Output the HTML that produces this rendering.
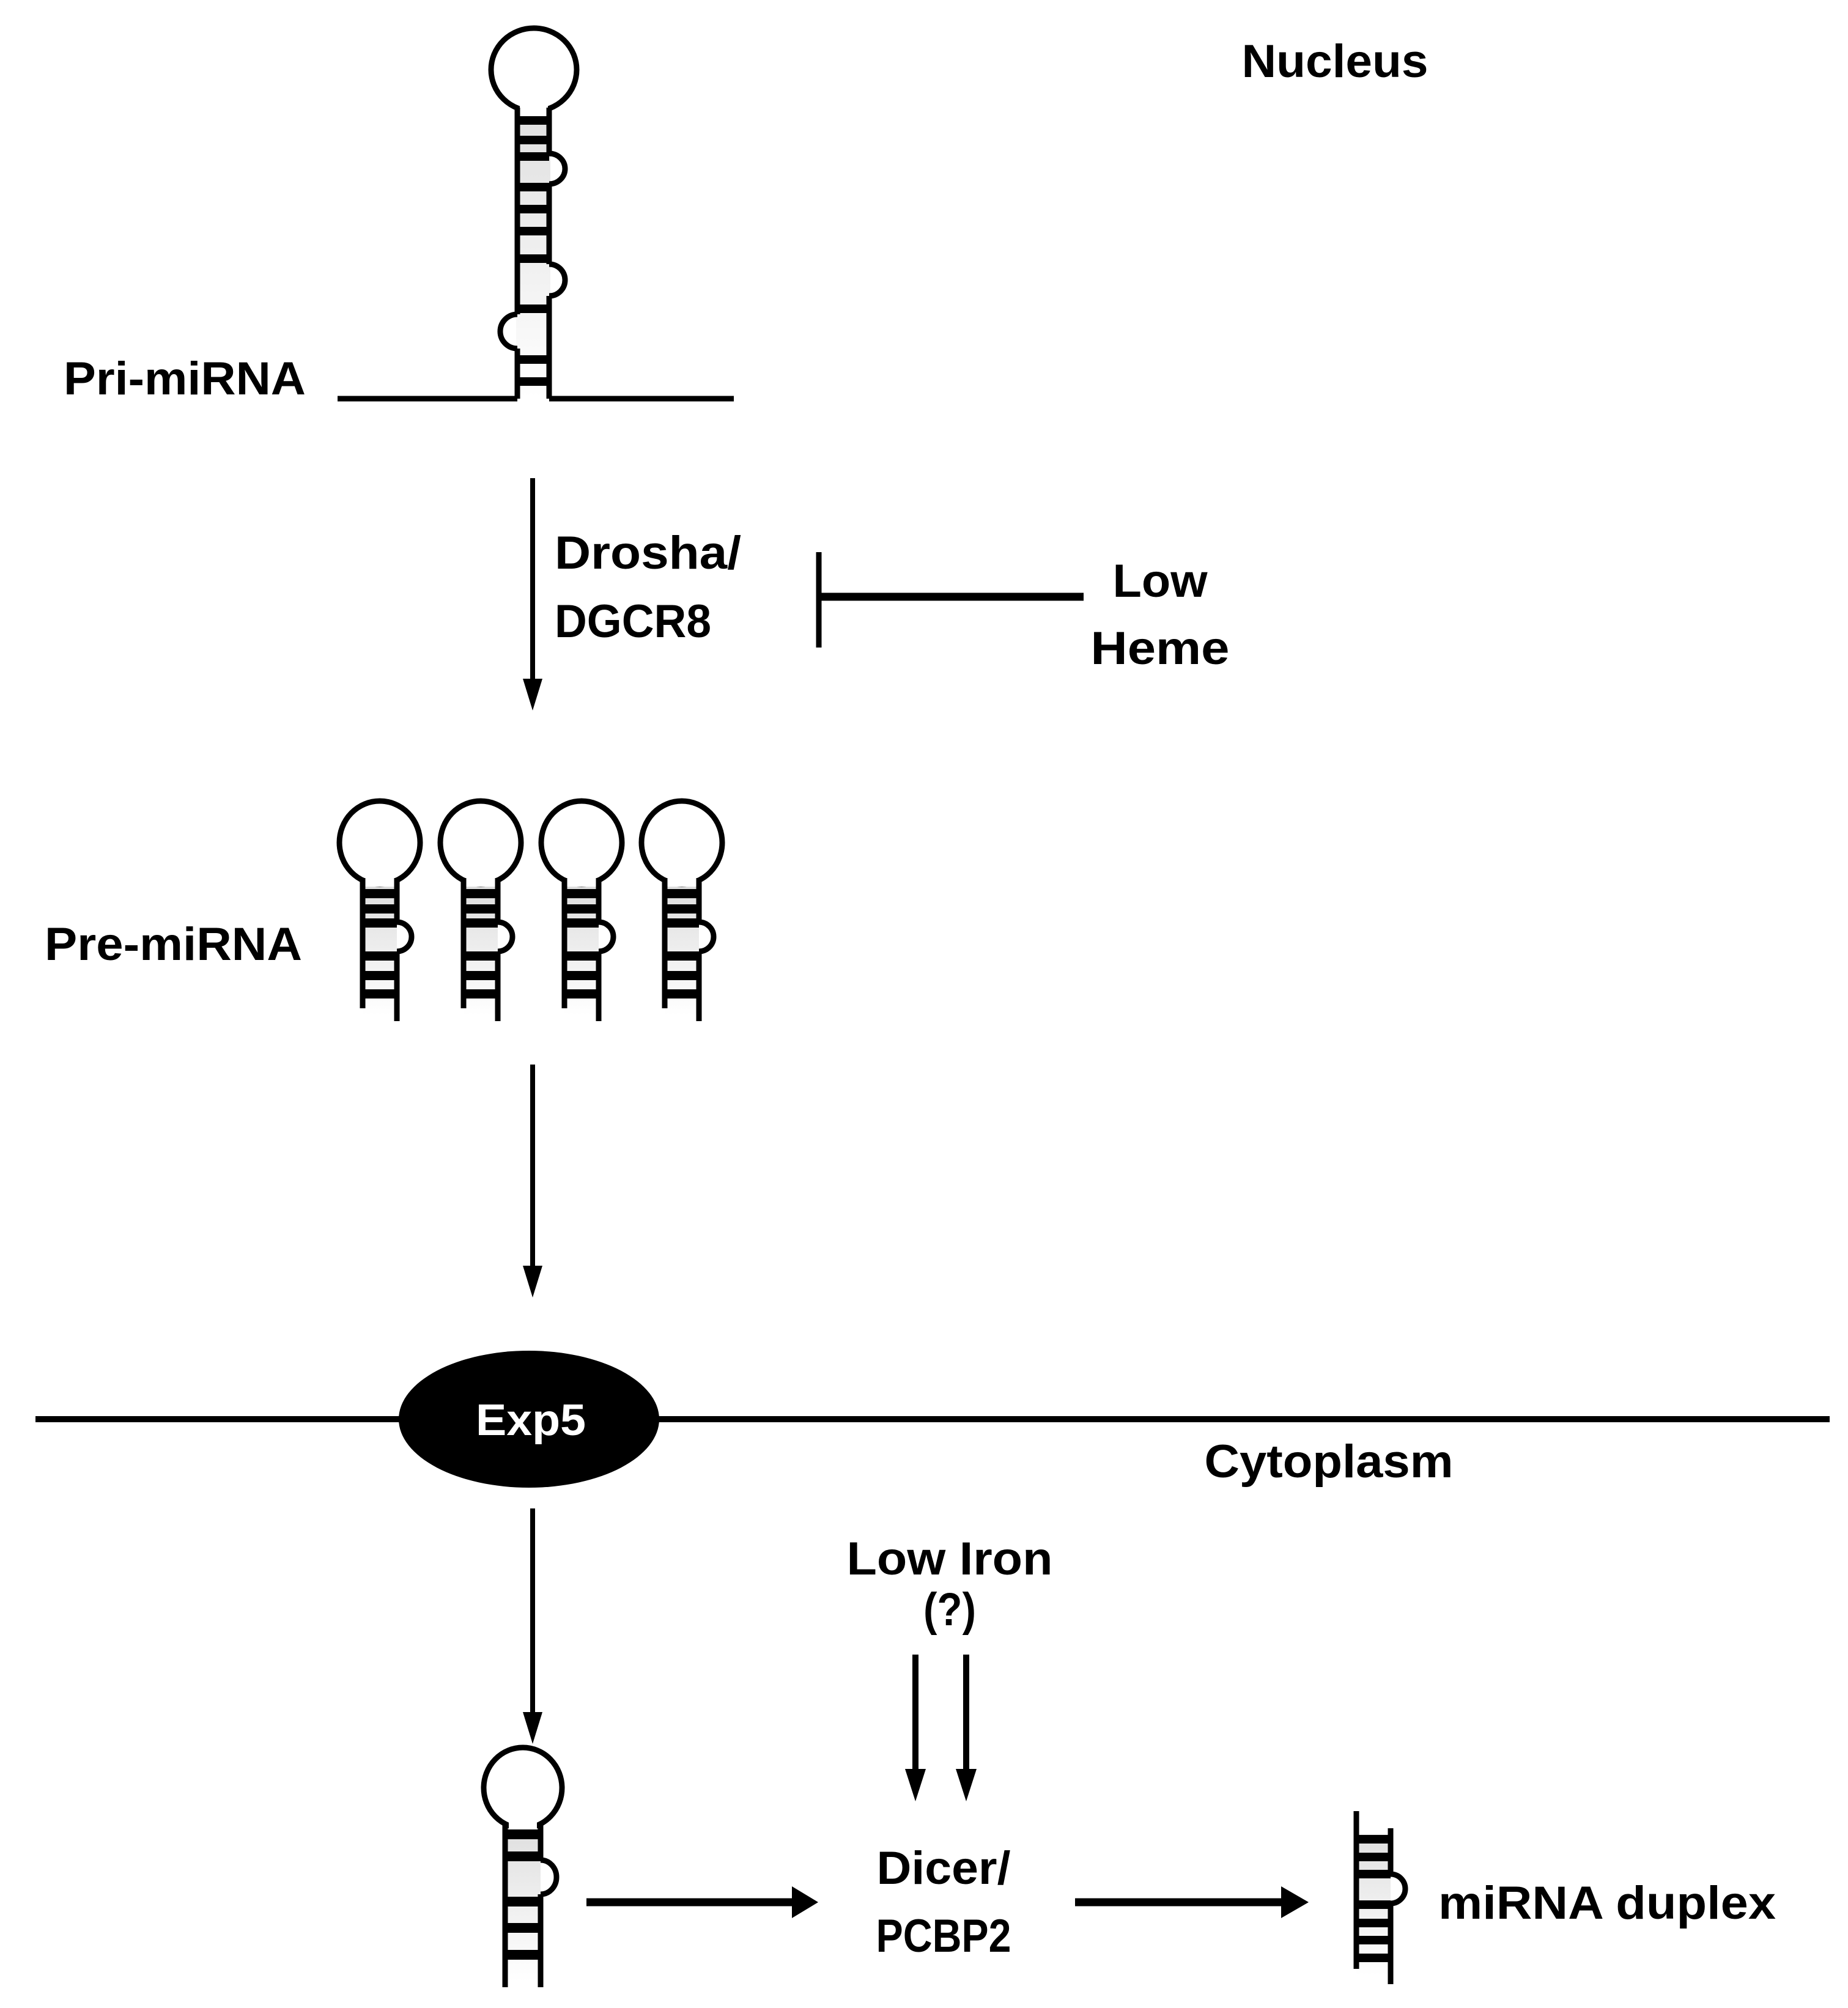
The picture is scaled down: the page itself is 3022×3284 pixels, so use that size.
<!DOCTYPE html>
<html><head><meta charset="utf-8"><style>
html,body{margin:0;padding:0;background:#fff;}
svg{display:block;}
text{font-family:"Liberation Sans",sans-serif;font-weight:bold;fill:#000;}
</style></head><body>
<svg width="3022" height="3284" viewBox="0 0 3022 3284" xmlns="http://www.w3.org/2000/svg">
<defs>
<linearGradient id="gr" x1="0" y1="0" x2="0" y2="1">
<stop offset="0" stop-color="#b0b0b0"/><stop offset="1" stop-color="#fff"/>
</linearGradient>
<g id="pre">
<rect x="-28" y="62" width="56" height="220" fill="url(#gr)" opacity="0.45"/>
<ellipse cx="0" cy="0" rx="66" ry="68" fill="#fff" stroke="#000" stroke-width="9"/>
<rect x="-24" y="50" width="48" height="22" fill="#fff"/>
<path d="M-28,58 V271" stroke="#000" stroke-width="9" fill="none"/>
<path d="M28,58 V130 M28,178 V292" stroke="#000" stroke-width="9" fill="none"/>
<path d="M28,130 a24,24 0 0 1 0,48" stroke="#000" stroke-width="9" fill="none"/>
<g fill="#000">
<rect x="-28" y="76" width="56" height="15"/>
<rect x="-28" y="101" width="56" height="15"/>
<rect x="-28" y="124" width="56" height="15"/>
<rect x="-28" y="178" width="56" height="15"/>
<rect x="-28" y="210" width="56" height="15"/>
<rect x="-28" y="240" width="56" height="15"/>
</g>
</g>
</defs>

<text x="2183" y="126" font-size="76" text-anchor="middle" textLength="305" lengthAdjust="spacingAndGlyphs">Nucleus</text>

<!-- Pri-miRNA hairpin -->
<rect x="844" y="180" width="56" height="470" fill="url(#gr)" opacity="0.4"/>
<ellipse cx="873" cy="114" rx="70" ry="68" fill="#fff" stroke="#000" stroke-width="9"/>
<rect x="850" y="168" width="46" height="22" fill="#fff"/>
<g stroke="#000" stroke-width="9" fill="none">
<path d="M846,176 V514 M846,570 V652 M552,652 H846"/>
<path d="M898,176 V251 M898,301 V432 M898,484 V652 M898,652 H1200"/>
<path d="M898,251 a26,25 0 0 1 0,50"/>
<path d="M898,432 a26,26 0 0 1 0,52"/>
<path d="M846,514 a28,28 0 0 0 0,56"/>
</g>
<g fill="#000">
<rect x="846" y="190" width="52" height="14"/>
<rect x="846" y="222" width="52" height="14"/>
<rect x="846" y="249" width="52" height="14"/>
<rect x="846" y="299" width="52" height="14"/>
<rect x="846" y="335" width="52" height="14"/>
<rect x="846" y="371" width="52" height="14"/>
<rect x="846" y="416" width="52" height="14"/>
<rect x="846" y="498" width="52" height="14"/>
<rect x="846" y="581" width="52" height="14"/>
<rect x="846" y="617" width="52" height="14"/>
</g>
<text x="104" y="645" font-size="76" textLength="396" lengthAdjust="spacingAndGlyphs">Pri-miRNA</text>

<line x1="871" y1="782" x2="871" y2="1120" stroke="#000" stroke-width="8"/>
<polygon points="855,1110 887,1110 871,1162" fill="#000"/>
<text x="907" y="930" font-size="76" textLength="305" lengthAdjust="spacingAndGlyphs">Drosha/</text>
<text x="907" y="1042" font-size="76" textLength="256" lengthAdjust="spacingAndGlyphs">DGCR8</text>

<line x1="1339" y1="903" x2="1339" y2="1059" stroke="#000" stroke-width="9"/>
<line x1="1339" y1="976" x2="1772" y2="976" stroke="#000" stroke-width="13"/>
<text x="1897" y="976" font-size="76" text-anchor="middle" textLength="155" lengthAdjust="spacingAndGlyphs">Low</text>
<text x="1897" y="1086" font-size="76" text-anchor="middle" textLength="227" lengthAdjust="spacingAndGlyphs">Heme</text>

<use href="#pre" transform="translate(621,1378)"/>
<use href="#pre" transform="translate(786,1378)"/>
<use href="#pre" transform="translate(951,1378)"/>
<use href="#pre" transform="translate(1115,1378)"/>
<text x="73" y="1570" font-size="76" textLength="421" lengthAdjust="spacingAndGlyphs">Pre-miRNA</text>

<line x1="871" y1="1741" x2="871" y2="2080" stroke="#000" stroke-width="8"/>
<polygon points="855,2070 887,2070 871,2122" fill="#000"/>

<line x1="58" y1="2321" x2="2992" y2="2321" stroke="#000" stroke-width="10"/>
<ellipse cx="865" cy="2321" rx="213" ry="112" fill="#000"/>
<text x="868" y="2347" font-size="72" text-anchor="middle" style="fill:#fff" textLength="180" lengthAdjust="spacingAndGlyphs">Exp5</text>
<text x="2173" y="2416" font-size="76" text-anchor="middle" textLength="407" lengthAdjust="spacingAndGlyphs">Cytoplasm</text>

<line x1="871" y1="2467" x2="871" y2="2810" stroke="#000" stroke-width="8"/>
<polygon points="855,2800 887,2800 871,2852" fill="#000"/>

<text x="1553" y="2575" font-size="76" text-anchor="middle" textLength="337" lengthAdjust="spacingAndGlyphs">Low Iron</text>
<text x="1553" y="2658" font-size="76" text-anchor="middle" textLength="86" lengthAdjust="spacingAndGlyphs">(?)</text>
<line x1="1497" y1="2706" x2="1497" y2="2900" stroke="#000" stroke-width="10"/>
<polygon points="1480,2893 1514,2893 1497,2946" fill="#000"/>
<line x1="1580" y1="2706" x2="1580" y2="2900" stroke="#000" stroke-width="10"/>
<polygon points="1563,2893 1597,2893 1580,2946" fill="#000"/>

<rect x="826" y="2990" width="58" height="250" fill="url(#gr)" opacity="0.4"/>
<ellipse cx="855" cy="2924" rx="64" ry="66" fill="#fff" stroke="#000" stroke-width="9"/>
<rect x="832" y="2976" width="46" height="22" fill="#fff"/>
<g stroke="#000" stroke-width="9" fill="none">
<path d="M826,2984 V3250"/>
<path d="M884,2984 V3042 M884,3098 V3250"/>
<path d="M884,3042 a26,28 0 0 1 0,56"/>
</g>
<g fill="#000">
<rect x="826" y="2992" width="58" height="16"/>
<rect x="826" y="3028" width="58" height="16"/>
<rect x="826" y="3102" width="58" height="16"/>
<rect x="826" y="3145" width="58" height="16"/>
<rect x="826" y="3189" width="58" height="16"/>
</g>

<line x1="959" y1="3111" x2="1300" y2="3111" stroke="#000" stroke-width="13"/>
<polygon points="1295,3085 1295,3137 1338,3111" fill="#000"/>
<text x="1543" y="3081" font-size="76" text-anchor="middle" textLength="219" lengthAdjust="spacingAndGlyphs">Dicer/</text>
<text x="1543" y="3192" font-size="76" text-anchor="middle" textLength="221" lengthAdjust="spacingAndGlyphs">PCBP2</text>
<line x1="1758" y1="3111" x2="2100" y2="3111" stroke="#000" stroke-width="13"/>
<polygon points="2095,3085 2095,3137 2140,3111" fill="#000"/>

<rect x="2218" y="3000" width="56" height="230" fill="url(#gr)" opacity="0.4"/>
<g stroke="#000" stroke-width="9" fill="none">
<path d="M2218,2962 V3220"/>
<path d="M2274,2990 V3065 M2274,3113 V3245"/>
<path d="M2274,3065 a24,24 0 0 1 0,48"/>
</g>
<g fill="#000">
<rect x="2218" y="3001" width="56" height="14"/>
<rect x="2218" y="3030" width="56" height="14"/>
<rect x="2218" y="3058" width="56" height="14"/>
<rect x="2218" y="3108" width="56" height="14"/>
<rect x="2218" y="3138" width="56" height="14"/>
<rect x="2218" y="3166" width="56" height="14"/>
<rect x="2218" y="3195" width="56" height="14"/>
</g>
<text x="2352" y="3138" font-size="76" textLength="552" lengthAdjust="spacingAndGlyphs">miRNA duplex</text>
</svg>
</body></html>
